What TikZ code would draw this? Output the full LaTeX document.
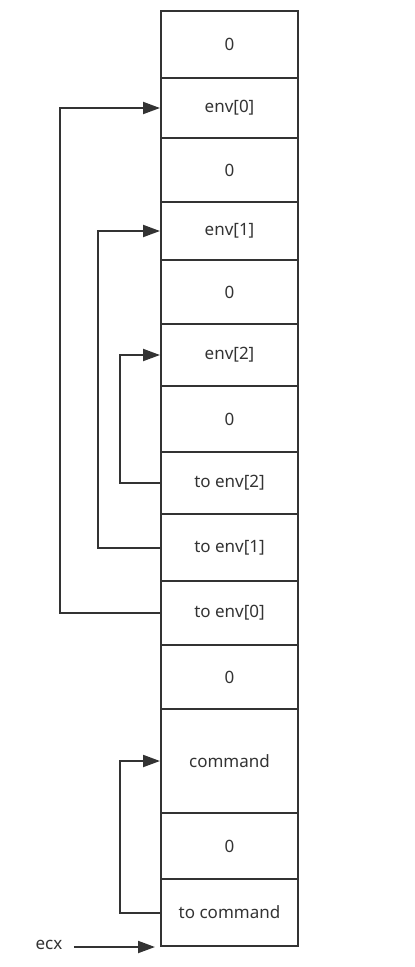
\documentclass[tikz,border=0pt]{standalone}
\usepackage{fontspec}
\setmainfont{Noto Sans}
\usetikzlibrary{arrows.meta}
\begin{document}
\begin{tikzpicture}[x=1pt,y=-1pt,
  cell/.style={draw=black!80, line width=2pt, minimum width=137pt, inner sep=0pt, font=\fontsize{17}{20}\selectfont, text=black!80},
  arr/.style={draw=black!80, line width=2pt, -{Triangle[length=17pt,width=12pt]}},
  lbl/.style={font=\fontsize{17}{20}\selectfont, text=black!80}]
\useasboundingbox (0,0) rectangle (415,967);
\def\cx{229.5}
\node[cell, minimum height=67pt] (c1) at (\cx,44.5) {0};
\node[cell, minimum height=60pt] (e0) at (\cx,108) {env[0]};
\node[cell, minimum height=64pt] (c3) at (\cx,170) {0};
\node[cell, minimum height=58pt] (e1) at (\cx,231) {env[1]};
\node[cell, minimum height=64pt] (c5) at (\cx,292) {0};
\node[cell, minimum height=62pt] (e2) at (\cx,355) {env[2]};
\node[cell, minimum height=66pt] (c7) at (\cx,419) {0};
\node[cell, minimum height=62pt] (t2) at (\cx,483) {to env[2]};
\node[cell, minimum height=67pt] (t1) at (\cx,547.5) {to env[1]};
\node[cell, minimum height=64pt] (t0) at (\cx,613) {to env[0]};
\node[cell, minimum height=64pt] (c11) at (\cx,677) {0};
\node[cell, minimum height=104pt] (cm) at (\cx,761) {command};
\node[cell, minimum height=66pt] (c13) at (\cx,846) {0};
\node[cell, minimum height=67pt] (tc) at (\cx,912.5) {to command};
\node[lbl] (ecx) at (49,945) {ecx};
\draw[arr] (t0.west) -- ++(-100,0) |- (e0.west);
\draw[arr] (t1.west) -- ++(-62,0) |- (e1.west);
\draw[arr] (t2.west) -- ++(-40,0) |- (e2.west);
\draw[arr] (tc.west) -- ++(-40,0) |- (cm.west);
\draw[arr, shorten <=8pt, shorten >=5pt] (ecx.east |- tc.south) -- (tc.south west);
\end{tikzpicture}
\end{document}
